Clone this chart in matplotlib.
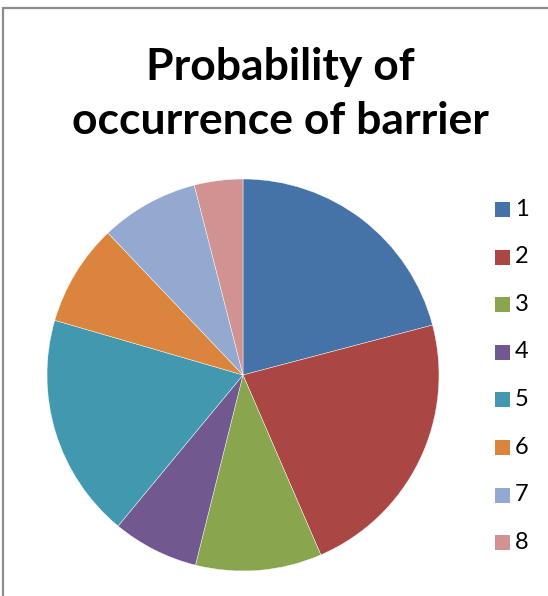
import matplotlib
matplotlib.use("Agg")
import matplotlib.pyplot as plt
from matplotlib.patches import Rectangle

categories = ["1", "2", "3", "4", "5", "6", "7", "8"]
values = [20.9, 22.6, 10.4, 7.1, 18.5, 8.4, 8.1, 4.0]
colors = ["#4572A7", "#AA4643", "#89A54E", "#71588F", "#4198AF", "#DB843D", "#93A9CF", "#D19392"]
title_lines = ["Probability of", "occurrence of barrier"]

W, H = 548, 596
fig = plt.figure(figsize=(W / 100, H / 100), dpi=100)
fig.patch.set_facecolor("white")

# Border (chart area frame, cropped on right/bottom)
fig.add_artist(Rectangle((3 / W, -0.1), 1.2, 1.1 - 8 / H, transform=fig.transFigure,
                         fill=False, edgecolor="#8c8c8c", linewidth=1.6))

# Pie axes
cx, cy, r = 243, 375, 196
ax = fig.add_axes([(cx - r) / W, (H - cy - r) / H, 2 * r / W, 2 * r / H])
ax.pie(values, colors=colors, startangle=90, counterclock=False, radius=1,
       wedgeprops=dict(linewidth=0.3, edgecolor="white"))
ax.set_xlim(-1, 1)
ax.set_ylim(-1, 1)
ax.set_aspect("auto")
ax.axis("off")

# Title
font = "Lato"
fig.text(280 / W, 1 - 67 / H, title_lines[0], ha="center", va="center",
         fontsize=32, fontweight="bold", family=font)
fig.text(280 / W, 1 - 121 / H, title_lines[1], ha="center", va="center",
         fontsize=32, fontweight="bold", family=font)

# Legend
y0, dy = 209, 47.6
for i, (c, lab) in enumerate(zip(colors, categories)):
    yy = y0 + i * dy
    fig.add_artist(Rectangle((495 / W, 1 - (yy + 8) / H), 15 / W, 15 / H,
                             transform=fig.transFigure, facecolor=c, edgecolor="none"))
    fig.text(515 / W, 1 - yy / H, lab, ha="left", va="center", fontsize=17, family=font)

fig.savefig("out.png", dpi=100)
